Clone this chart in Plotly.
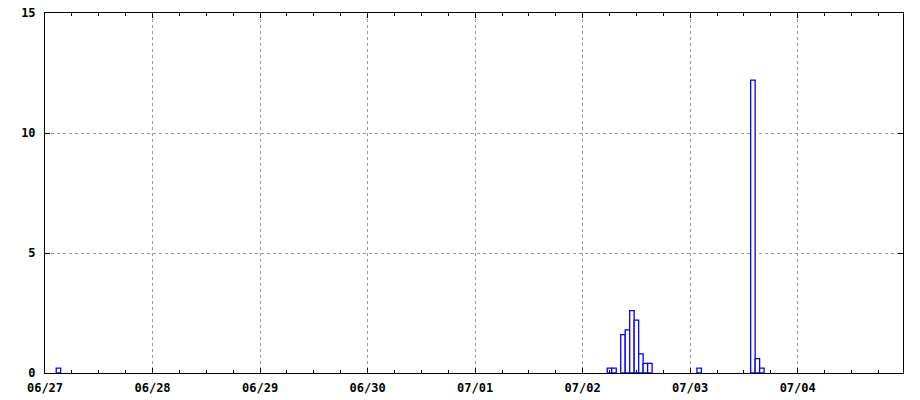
import plotly.graph_objects as go

# hourly totals (only non-zero hours listed)
times = [
    "2023-06-27 03:00",
    "2023-07-02 06:00", "2023-07-02 07:00",
    "2023-07-02 09:00", "2023-07-02 10:00", "2023-07-02 11:00",
    "2023-07-02 12:00", "2023-07-02 13:00", "2023-07-02 14:00",
    "2023-07-02 15:00",
    "2023-07-03 02:00",
    "2023-07-03 14:00", "2023-07-03 15:00", "2023-07-03 16:00",
]
values = [
    0.2,
    0.2, 0.2,
    1.6, 1.8, 2.6,
    2.2, 0.8, 0.4,
    0.4,
    0.2,
    12.2, 0.6, 0.2,
]

x_start = "2023-06-27 00:00"
x_end = "2023-07-04 23:30"
y_ticks = [0, 5, 10, 15]

font = dict(family="DejaVu Sans Mono", size=12, color="black", weight="bold")

fig = go.Figure(
    go.Bar(
        x=times,
        y=values,
        width=3600000,
        marker=dict(color="white", line=dict(color="#0000ff", width=1.3)),
    )
)

fig.update_layout(
    width=920,
    height=400,
    margin=dict(l=45, r=17, t=13, b=27, autoexpand=False),
    plot_bgcolor="white",
    paper_bgcolor="white",
    showlegend=False,
    font=font,
)

fig.update_xaxes(
    type="date",
    range=[x_start, x_end],
    tick0=x_start,
    dtick=86400000,
    tickformat="%m/%d",
    ticks="inside",
    ticklen=5,
    tickcolor="black",
    showline=True,
    linecolor="black",
    linewidth=1,
    mirror="ticks",
    showgrid=True,
    gridcolor="#999999",
    griddash="dot",
    gridwidth=1,
    minor=dict(dtick=21600000, ticks="inside", ticklen=3, tickcolor="black", showgrid=False),
    tickfont=font,
    zeroline=False,
    automargin=False,
    ticklabelstandoff=4,
)

fig.update_yaxes(
    range=[0, 15],
    tickvals=y_ticks,
    ticks="inside",
    ticklen=5,
    tickcolor="black",
    showline=True,
    linecolor="black",
    linewidth=1,
    mirror="ticks",
    showgrid=True,
    gridcolor="#999999",
    griddash="dot",
    gridwidth=1,
    zeroline=False,
    tickfont=font,
    ticklabelstandoff=6,
    automargin=False,
)

fig.write_html(
    "out.html",
    config={"displayModeBar": False, "staticPlot": True},
    post_script="document.body.style.margin='0';document.body.style.overflow='hidden';",
)
